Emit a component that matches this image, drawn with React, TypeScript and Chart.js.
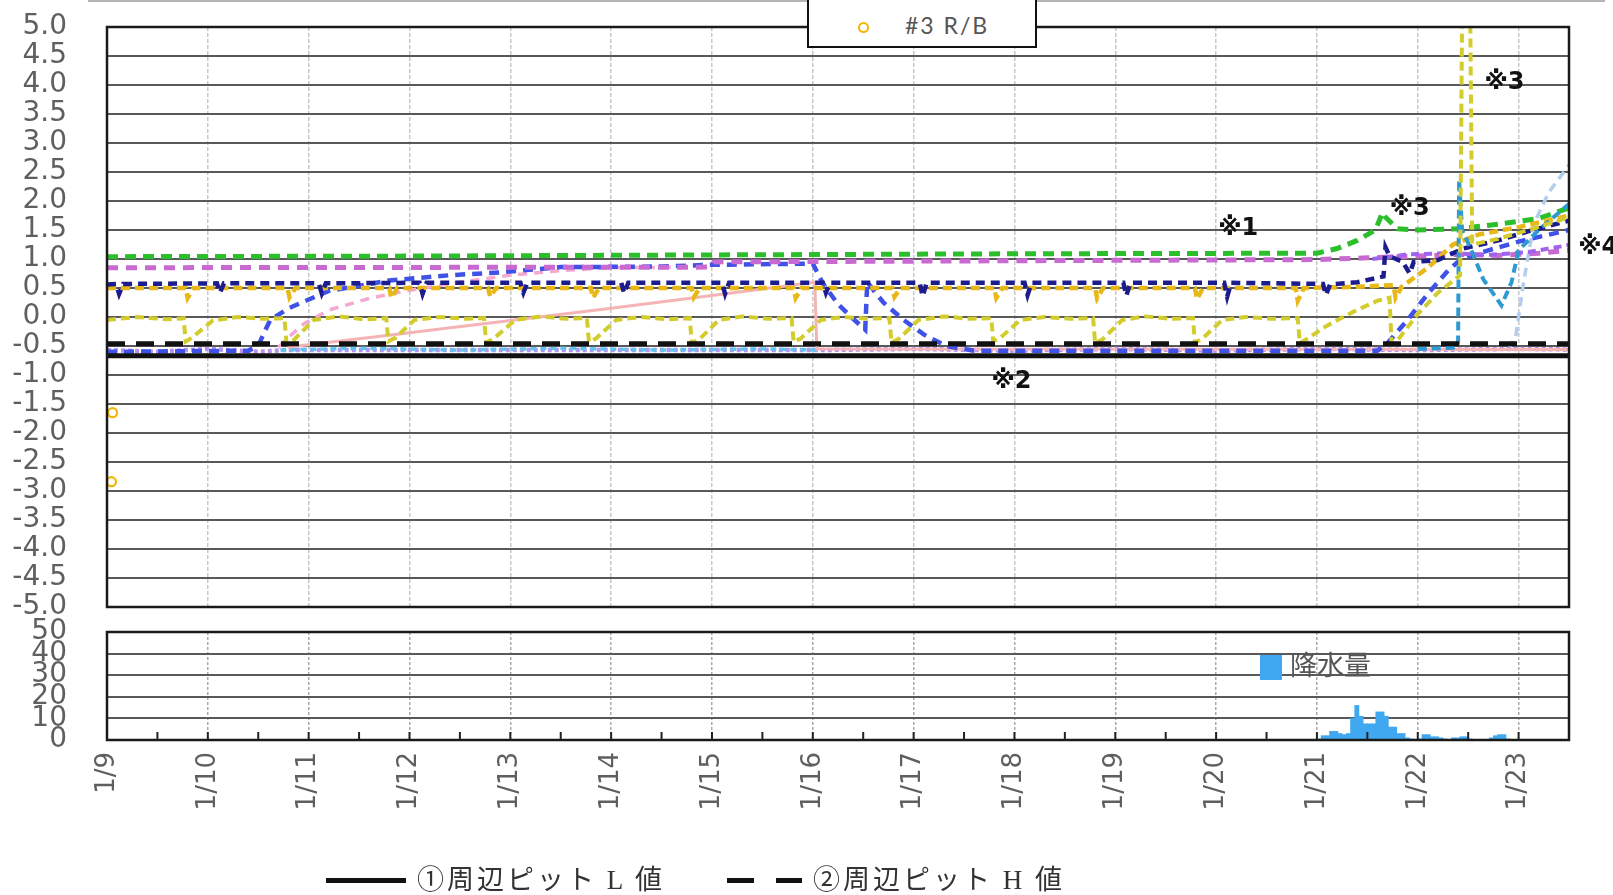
import React, { useEffect, useRef } from 'react';
import { Chart, registerables } from 'chart.js';

Chart.register(...registerables);

type Pt = [number, number];

// Shared time axis: days counted from 1/9 00:00
const DAY_LABELS = ['1/9', '1/10', '1/11', '1/12', '1/13', '1/14', '1/15', '1/16', '1/17', '1/18', '1/19', '1/20', '1/21', '1/22', '1/23'];
const TIME_MAX = 14.5;

const LEVEL_MIN = -5;
const LEVEL_MAX = 5;
const LEVEL_STEP = 0.5;
const RAIN_MAX = 50;
const RAIN_STEP = 10;

// Reference levels ① and ②
const L_VALUE: Pt[] = [[0, -0.67], [14.5, -0.67]];
const H_VALUE: Pt[] = [[0, -0.46], [14.5, -0.46]];

// #3 R/B readings
const RB_POINTS: Pt[] = [[0.055, -1.65], [0.044, -2.84]];

const YELLOW_PTS: Pt[] = [
  [0, -0.05], [0.3, 0.0], [0.6, -0.04], [0.76, -0.02], [0.78, -0.42], [0.84, -0.36], [1.05, -0.06], [1.3, 0.0],
  [1.55, -0.03], [1.76, -0.02], [1.78, -0.45], [1.85, -0.4], [2.05, -0.05], [2.3, 0.01], [2.55, -0.04],
  [2.77, -0.02], [2.79, -0.42], [2.86, -0.36], [3.05, -0.05], [3.3, 0.0], [3.55, -0.03], [3.74, -0.02],
  [3.76, -0.44], [3.83, -0.38], [4.05, -0.05], [4.3, 0.01], [4.55, -0.03], [4.76, -0.02], [4.78, -0.43],
  [4.85, -0.37], [5.05, -0.05], [5.3, 0.0], [5.55, -0.04], [5.78, -0.02], [5.8, -0.45], [5.87, -0.39],
  [6.07, -0.05], [6.3, 0.01], [6.55, -0.03], [6.79, -0.02], [6.81, -0.43], [6.88, -0.37], [7.08, -0.05],
  [7.3, 0.0], [7.55, -0.03], [7.76, -0.02], [7.78, -0.44], [7.85, -0.38], [8.05, -0.05], [8.3, 0.01],
  [8.55, -0.03], [8.77, -0.02], [8.79, -0.42], [8.86, -0.36], [9.06, -0.05], [9.3, 0.0], [9.55, -0.03],
  [9.78, -0.02], [9.8, -0.45], [9.87, -0.39], [10.07, -0.05], [10.3, 0.01], [10.55, -0.03], [10.77, -0.02],
  [10.79, -0.44], [10.86, -0.38], [11.06, -0.05], [11.3, 0.0], [11.55, -0.03], [11.81, -0.02], [11.83, -0.45],
  [11.9, -0.38], [12.1, -0.15], [12.35, 0.08], [12.6, 0.28], [12.72, 0.33], [12.74, -0.45], [12.8, -0.4],
  [13.0, 0.05], [13.2, 0.42], [13.42, 0.72], [13.44, 5.3], [13.52, 5.3], [13.54, 1.25], [13.8, 1.35],
  [14.1, 1.5], [14.5, 1.72],
];

const GOLD_PTS: Pt[] = [
  [0, 0.5], [0.78, 0.5], [0.8, 0.33], [0.86, 0.5], [1.79, 0.5], [1.81, 0.34], [1.87, 0.5], [2.8, 0.5],
  [2.82, 0.33], [2.88, 0.5], [3.78, 0.5], [3.8, 0.35], [3.86, 0.5], [4.8, 0.5], [4.82, 0.33], [4.88, 0.5],
  [5.8, 0.5], [5.82, 0.34], [5.88, 0.5], [6.81, 0.5], [6.83, 0.33], [6.89, 0.5], [7.79, 0.5], [7.81, 0.35],
  [7.87, 0.5], [8.8, 0.5], [8.82, 0.33], [8.88, 0.5], [9.8, 0.5], [9.82, 0.32], [9.88, 0.5], [10.79, 0.5],
  [10.81, 0.31], [10.87, 0.5], [11.79, 0.5], [11.81, 0.28], [11.87, 0.5], [12.4, 0.52], [12.76, 0.55],
  [12.78, 0.33], [12.84, 0.52], [13.1, 0.85], [13.35, 1.25], [13.6, 1.42], [14.0, 1.55], [14.5, 1.75],
];

const NAVY_PTS: Pt[] = [
  [0, 0.56], [0.09, 0.57], [0.12, 0.4], [0.16, 0.57], [1.09, 0.58], [1.12, 0.42], [1.16, 0.58], [2.1, 0.58],
  [2.13, 0.41], [2.17, 0.58], [3.1, 0.59], [3.13, 0.4], [3.17, 0.59], [4.1, 0.59], [4.13, 0.42], [4.17, 0.59],
  [5.1, 0.59], [5.13, 0.41], [5.17, 0.59], [6.1, 0.59], [6.13, 0.4], [6.17, 0.59], [7.1, 0.59], [7.13, 0.42],
  [7.17, 0.59], [8.06, 0.59], [8.09, 0.36], [8.13, 0.59], [9.1, 0.59], [9.13, 0.38], [9.17, 0.59],
  [10.08, 0.59], [10.11, 0.37], [10.15, 0.59], [11.08, 0.59], [11.11, 0.35], [11.15, 0.59], [12.06, 0.57],
  [12.09, 0.38], [12.13, 0.56], [12.4, 0.6], [12.66, 0.7], [12.68, 1.2], [12.72, 1.05], [12.85, 0.95],
  [12.92, 0.75], [12.96, 0.95], [13.2, 0.98], [13.45, 1.18], [13.8, 1.32], [14.1, 1.48], [14.5, 1.66],
];

const GREEN_PTS: Pt[] = [
  [0, 1.04], [3, 1.05], [6, 1.07], [9, 1.09], [12.0, 1.1], [12.2, 1.18], [12.4, 1.32], [12.58, 1.5],
  [12.65, 1.8], [12.68, 1.72], [12.8, 1.52], [13.0, 1.5], [13.4, 1.52], [13.8, 1.6], [14.2, 1.7], [14.5, 1.88],
];

const MAGENTA_PTS: Pt[] = [
  [0, 0.85], [5.98, 0.86], [6.02, 0.95], [9, 0.97], [12.0, 0.99], [12.5, 1.02], [13.0, 1.05], [13.4, 1.08],
  [13.8, 1.06], [14.2, 1.1], [14.5, 1.15],
];

const VIOLET_PTS: Pt[] = [
  [12.55, 1.0], [12.9, 1.08], [13.3, 1.1], [13.7, 1.07], [14.1, 1.12], [14.5, 1.24],
];

const BLUE_PTS: Pt[] = [
  [0, -0.6], [1.4, -0.58], [1.5, -0.5], [1.55, -0.3], [1.62, -0.05], [1.8, 0.15], [2.2, 0.45], [2.8, 0.63],
  [3.4, 0.72], [3.9, 0.77], [4.5, 0.86], [5.5, 0.87], [6.0, 0.9], [7.0, 0.92], [7.1, 0.58], [7.25, 0.22],
  [7.4, -0.03], [7.52, -0.22], [7.54, 0.6], [7.7, 0.25], [7.9, -0.05], [8.1, -0.3], [8.32, -0.5],
  [8.6, -0.58], [12.6, -0.58], [12.7, -0.45], [12.9, -0.05], [13.1, 0.4], [13.3, 0.8], [13.43, 1.0],
  [13.7, 1.15], [14.0, 1.3], [14.5, 1.5],
];

const PINK_DASH_PTS: Pt[] = [
  [1.7, -0.52], [1.8, -0.35], [1.95, -0.12], [2.2, 0.12], [2.6, 0.32], [3.0, 0.46], [3.5, 0.6], [4.0, 0.72],
  [4.5, 0.8], [5.0, 0.85], [5.8, 0.86],
];

const PINK_LINE_PTS: Pt[] = [
  [1.79, -0.52], [3.0, -0.27], [4.0, -0.06], [5.0, 0.15], [6.0, 0.37], [7.02, 0.6], [7.04, -0.55], [14.5, -0.56],
];

const SKY_PTS: Pt[] = [
  [1.72, -0.57], [2.5, -0.54], [3.5, -0.57], [4.5, -0.54], [5.5, -0.57], [6.5, -0.55], [7.05, -0.57],
];

const LAVENDER_PTS: Pt[] = [
  [0, -0.57], [0.5, -0.6], [1.0, -0.55], [1.5, -0.6], [1.75, -0.57], [7.05, -0.57], [8, -0.55], [9, -0.58],
  [10, -0.55], [11, -0.58], [12, -0.55], [13, -0.57], [14, -0.55], [14.5, -0.56],
];

const TEAL_PTS: Pt[] = [
  [13.0, -0.55], [13.38, -0.53], [13.4, -0.45], [13.41, 2.37], [13.44, 1.5], [13.52, 1.2], [13.65, 0.65],
  [13.83, 0.2], [13.93, 0.6], [14.0, 1.15], [14.2, 1.5], [14.5, 1.95],
];

const PALE_PTS: Pt[] = [
  [13.9, -0.55], [13.97, -0.35], [14.05, 0.6], [14.15, 1.6], [14.3, 2.15], [14.5, 2.62],
];

// Hourly rainfall (mm) from 1/21 00:00
const RAIN_START = 12;
const RAIN_HOURLY = [
  0.5, 2, 2, 4, 4, 3, 2.5, 3, 10, 16, 11, 7.5, 7.5, 7.5, 13, 13, 11, 6, 6, 3, 3, 1, 0.5, 0,
  0.5, 2.5, 2.5, 1.5, 1.5, 1, 0.5, 0, 1, 1, 1.5, 1.5, 0.5, 0, 0, 0, 0, 1, 2, 2.5, 2.5, 0.5, 0, 0,
];

const NOTES = [
  { text: '※1', x: 11.22, y: 1.52 },
  { text: '※2', x: 8.97, y: -1.11 },
  { text: '※3', x: 12.92, y: 1.86 },
  { text: '※3', x: 13.86, y: 4.04 },
  { text: '※4', x: 14.79, y: 1.2 },
];

// Drawing styles (first entry is drawn on top)
const SERIES = [
  { label: '①周辺ピット L 値', points: L_VALUE, color: '#111111', width: 5, dash: [] as number[] },
  { label: '②周辺ピット H 値', points: H_VALUE, color: '#111111', width: 5, dash: [18, 11] },
  { label: 'No.1', points: YELLOW_PTS, color: '#d2cc2c', width: 4, dash: [9, 5] },
  { label: 'No.2', points: TEAL_PTS, color: '#2f9ad2', width: 4, dash: [9, 5] },
  { label: 'No.3', points: NAVY_PTS, color: '#1c1c8e', width: 4.5, dash: [9, 6] },
  { label: 'No.4', points: GOLD_PTS, color: '#e8b818', width: 4.5, dash: [9, 5] },
  { label: 'No.6', points: GREEN_PTS, color: '#2bc02b', width: 5, dash: [11, 7] },
  { label: 'No.7', points: VIOLET_PTS, color: '#a063ee', width: 4, dash: [8, 5] },
  { label: 'No.8', points: MAGENTA_PTS, color: '#c86ad2', width: 5, dash: [11, 8] },
  { label: 'No.5', points: BLUE_PTS, color: '#3f51e6', width: 4.5, dash: [10, 7] },
  { label: 'No.9', points: PINK_DASH_PTS, color: '#f4a9d2', width: 3.5, dash: [9, 7] },
  { label: 'No.10', points: PINK_LINE_PTS, color: '#f4b4b6', width: 3, dash: [] as number[] },
  { label: 'No.11', points: SKY_PTS, color: '#62c4ee', width: 3.5, dash: [6, 4] },
  { label: 'No.12', points: LAVENDER_PTS, color: '#b792f0', width: 4.5, dash: [4, 3] },
  { label: 'No.13', points: PALE_PTS, color: '#b2cdee', width: 3.5, dash: [9, 6] },
];

const AXIS_FONT = '"DejaVu Sans", Verdana, sans-serif';
const TICK_COLOR = '#5f5f5f';

// The level canvas starts above the page so the tick-label padding fits above the plot
const LEVEL_CANVAS_TOP = -30;
const LEVEL_CANVAS_H = 925;

const framePlugin = {
  id: 'frame',
  afterDraw(chart: any) {
    const { ctx, chartArea: a } = chart;
    ctx.save();
    ctx.strokeStyle = '#1a1a1a';
    ctx.lineWidth = 2.5;
    ctx.strokeRect(a.left, a.top, a.right - a.left, a.bottom - a.top);
    ctx.restore();
  },
};

const notesPlugin = {
  id: 'notes',
  afterDraw(chart: any) {
    const { ctx, scales } = chart;
    ctx.save();
    ctx.font = 'bold 24px "DejaVu Sans", "Noto Sans CJK JP", sans-serif';
    ctx.fillStyle = '#111';
    ctx.textAlign = 'center';
    ctx.textBaseline = 'middle';
    NOTES.forEach((n) => {
      ctx.fillText(n.text, scales.x.getPixelForValue(n.x), scales.y.getPixelForValue(n.y));
    });
    ctx.restore();
  },
};

const halfDayTicksPlugin = {
  id: 'halfDayTicks',
  afterDraw(chart: any) {
    const { ctx, chartArea: a, scales } = chart;
    ctx.save();
    ctx.strokeStyle = '#222';
    ctx.lineWidth = 2;
    for (let v = 0.5; v < TIME_MAX; v += 0.5) {
      const px = scales.x.getPixelForValue(v);
      ctx.beginPath();
      ctx.moveTo(px, a.bottom);
      ctx.lineTo(px, a.bottom - 8);
      ctx.stroke();
    }
    ctx.restore();
  },
};

function levelConfig(): any {
  const lines = SERIES.map((s) => ({
    type: 'line',
    label: s.label,
    data: s.points.map(([x, y]) => ({ x, y })),
    borderColor: s.color,
    borderWidth: s.width,
    borderDash: s.dash,
    pointRadius: 0,
    fill: false,
    tension: 0,
  }));
  const rb = {
    type: 'line',
    label: '#3 R/B',
    data: RB_POINTS.map(([x, y]) => ({ x, y })),
    showLine: false,
    pointRadius: 4.5,
    pointBorderWidth: 2.2,
    pointBorderColor: '#f2b600',
    pointBackgroundColor: 'rgba(255,255,255,0)',
  };
  return {
    type: 'line',
    data: { datasets: [lines[0], lines[1], rb, ...lines.slice(2)] },
    options: {
      animation: false,
      responsive: false,
      devicePixelRatio: 1,
      layout: { padding: { left: 0, top: 27 - LEVEL_CANVAS_TOP, right: 44, bottom: LEVEL_CANVAS_H + LEVEL_CANVAS_TOP - 607 } },
      plugins: { legend: { display: false }, tooltip: { enabled: false } },
      scales: {
        x: {
          type: 'linear',
          min: 0,
          max: TIME_MAX,
          ticks: { display: false, stepSize: 1 },
          grid: { color: '#c8c8c8', lineWidth: 1.5, drawTicks: false },
          border: { display: false, dash: [4, 2] },
          afterFit: (s: any) => { s.height = 0; },
        },
        y: {
          min: LEVEL_MIN,
          max: LEVEL_MAX,
          ticks: {
            stepSize: LEVEL_STEP,
            autoSkip: false,
            padding: 40,
            color: TICK_COLOR,
            font: { family: AXIS_FONT, size: 28 },
            callback: (v: any) => Number(v).toFixed(1),
          },
          grid: { color: '#595959', lineWidth: 2, drawTicks: false },
          border: { display: false },
          afterFit: (s: any) => { s.width = 107; },
        },
      },
    },
    plugins: [framePlugin, notesPlugin],
  };
}

function rainConfig(): any {
  return {
    type: 'bar',
    data: {
      datasets: [
        {
          label: '降水量',
          data: RAIN_HOURLY.map((y, i) => ({ x: RAIN_START + (i + 0.5) / 24, y })),
          backgroundColor: '#40a8f0',
          borderWidth: 0,
          barPercentage: 1,
          categoryPercentage: 1,
        },
      ],
    },
    options: {
      animation: false,
      responsive: false,
      devicePixelRatio: 1,
      layout: { padding: { left: 0, top: 632, right: 44, bottom: 0 } },
      plugins: { legend: { display: false }, tooltip: { enabled: false } },
      scales: {
        x: {
          type: 'linear',
          min: 0,
          max: TIME_MAX,
          offset: false,
          ticks: {
            stepSize: 1,
            autoSkip: false,
            minRotation: 90,
            maxRotation: 90,
            padding: 12,
            color: TICK_COLOR,
            font: { family: AXIS_FONT, size: 26 },
            callback: (v: any) => DAY_LABELS[v],
          },
          grid: { color: '#aaaaaa', lineWidth: 1.5, drawTicks: false, offset: false },
          border: { display: false, dash: [3, 2] },
          afterFit: (s: any) => { s.height = 155; },
        },
        y: {
          min: 0,
          max: RAIN_MAX,
          ticks: {
            stepSize: RAIN_STEP,
            autoSkip: false,
            padding: 40,
            color: TICK_COLOR,
            font: { family: AXIS_FONT, size: 28 },
          },
          grid: { color: '#595959', lineWidth: 2, drawTicks: false },
          border: { display: false },
          afterFit: (s: any) => { s.width = 107; },
        },
      },
    },
    plugins: [framePlugin, halfDayTicksPlugin],
  };
}

const legendText: React.CSSProperties = {
  position: 'absolute',
  fontFamily: '"Liberation Serif", "Noto Sans CJK JP", serif',
  fontSize: 27,
  lineHeight: '30px',
  color: '#333',
  letterSpacing: 3,
  whiteSpace: 'nowrap',
};

export default function App() {
  const levelRef = useRef<HTMLCanvasElement>(null);
  const rainRef = useRef<HTMLCanvasElement>(null);

  useEffect(() => {
    const level = new Chart(levelRef.current as HTMLCanvasElement, levelConfig());
    const rain = new Chart(rainRef.current as HTMLCanvasElement, rainConfig());
    return () => {
      level.destroy();
      rain.destroy();
    };
  }, []);

  return (
    <div style={{ position: 'absolute', left: 0, top: 0, width: 1613, height: 895, background: '#fff', overflow: 'hidden' }}>
      <canvas
        ref={levelRef}
        width={1613}
        height={LEVEL_CANVAS_H}
        style={{ position: 'absolute', left: 0, top: LEVEL_CANVAS_TOP, width: 1613, height: LEVEL_CANVAS_H }}
      />
      <canvas
        ref={rainRef}
        width={1613}
        height={895}
        style={{ position: 'absolute', left: 0, top: 0, width: 1613, height: 895 }}
      />

      <div style={{ position: 'absolute', left: 88, top: 0, width: 1517, height: 2, background: '#b4b4b4' }} />

      <div
        style={{
          position: 'absolute', left: 807, top: -3, width: 230, height: 51, boxSizing: 'border-box',
          border: '2px solid #111', background: '#fff',
        }}
      >
        <span
          style={{
            position: 'absolute', left: 49, top: 23, width: 11, height: 11, borderRadius: '50%',
            border: '2.5px solid #f2b600', boxSizing: 'border-box',
          }}
        />
        <span
          style={{
            position: 'absolute', left: 96, top: 12, fontFamily: 'Lato, "Open Sans", sans-serif', fontSize: 23,
            lineHeight: '28px', color: '#555', letterSpacing: 2, whiteSpace: 'nowrap',
          }}
        >
          #3 R/B
        </span>
      </div>

      <div style={{ position: 'absolute', left: 1260, top: 655, width: 22, height: 25, background: '#40a8f0' }} />
      <div
        style={{
          position: 'absolute', left: 1290, top: 648, fontFamily: '"Noto Sans CJK JP", sans-serif', fontSize: 27,
          lineHeight: '32px', color: '#555', whiteSpace: 'nowrap',
        }}
      >
        降水量
      </div>

      <div style={{ position: 'absolute', left: 326, top: 878, width: 80, height: 5, background: '#111' }} />
      <div style={{ ...legendText, left: 417, top: 865 }}>①周辺ピット L 値</div>
      <div style={{ position: 'absolute', left: 727, top: 878, width: 27, height: 5, background: '#111' }} />
      <div style={{ position: 'absolute', left: 776, top: 878, width: 26, height: 5, background: '#111' }} />
      <div style={{ ...legendText, left: 813, top: 865 }}>②周辺ピット H 値</div>
    </div>
  );
}
